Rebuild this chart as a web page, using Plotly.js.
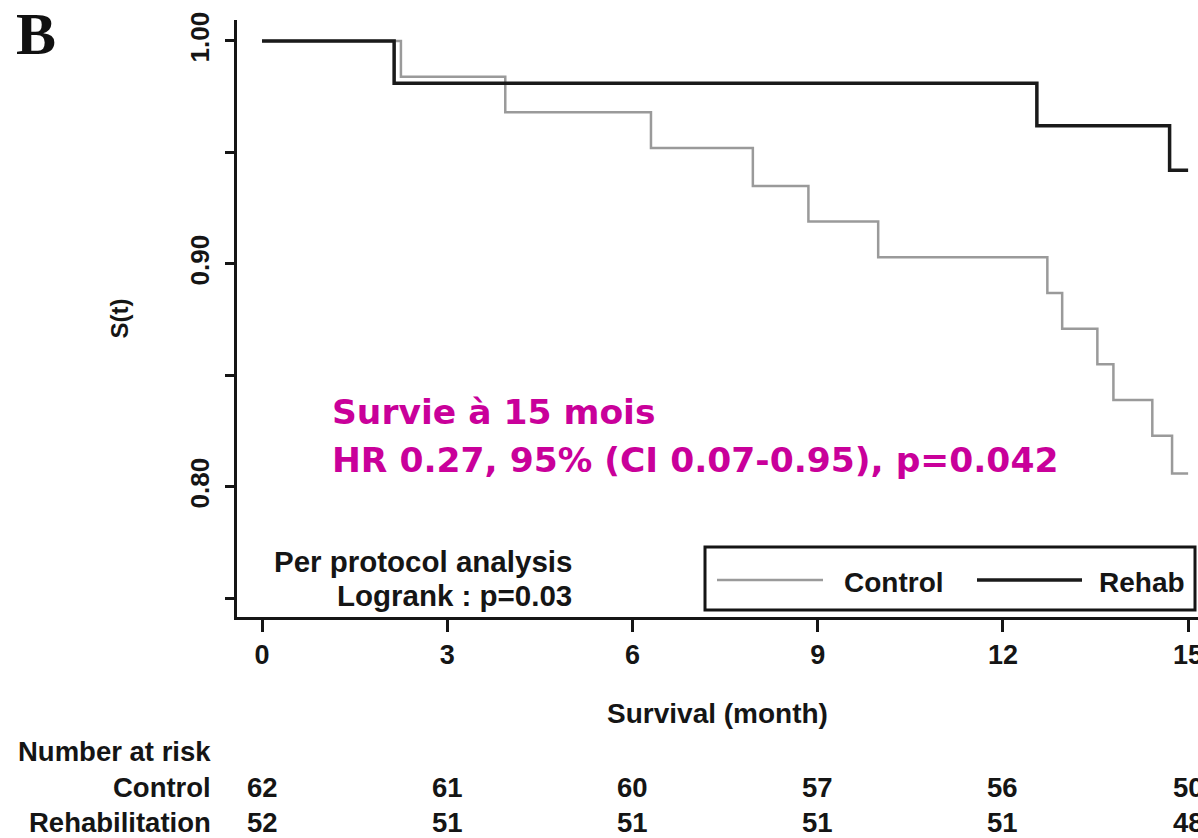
<!DOCTYPE html>
<html><head><meta charset="utf-8">
<script src="https://cdn.plot.ly/plotly-3.0.1.min.js"></script>
<style>html,body{margin:0;padding:0;background:#fff;overflow:hidden;} #chart{width:1198px;height:838px;}</style>
</head><body><div id="chart"></div>
<script>
// ---- data ----
const controlTime = [0, 2.25, 3.94, 6.30, 7.95, 8.85, 9.98, 12.72, 12.96, 13.53, 13.79, 14.42, 14.74, 15.0];
const controlSurv = [1.0, 0.984, 0.968, 0.952, 0.935, 0.919, 0.903, 0.887, 0.871, 0.855, 0.839, 0.823, 0.806, 0.806];
const rehabTime = [0, 2.14, 12.55, 14.70, 15.0];
const rehabSurv = [1.0, 0.981, 0.962, 0.942, 0.942];
const seriesNames = ['Control', 'Rehab'];
const riskTimes = [0, 3, 6, 9, 12, 15];
const riskControl = [62, 61, 60, 57, 56, 50];
const riskRehab = [52, 51, 51, 51, 51, 48];
const riskRowLabels = ['Control', 'Rehabilitation'];
const xTickVals = [0, 3, 6, 9, 12, 15];
const yTickVals = [0.75, 0.80, 0.85, 0.90, 0.95, 1.00];
const yTickText = ['', '0.80', '', '0.90', '', '1.00'];
const panelLabel = 'B';
const xTitle = 'Survival (month)';
const yTitle = 'S(t)';
const analysisLines = ['Per protocol analysis', 'Logrank : p=0.03'];
const noteLines = ['Survie à 15 mois', 'HR 0.27, 95% (CI 0.07-0.95), p=0.042'];
const riskHeader = 'Number at risk';

// ---- layout helpers ----
const plotL = 237, plotR = 1198, plotT = 20, plotB = 617;
const px = v => (v - plotL) / (plotR - plotL);
const py = v => (plotB - v) / (plotB - plotT);
const FONT = 'Liberation Sans, Arial, Helvetica, sans-serif';
const INK = '#151515';
const GRAY = '#9a9a9a';
const MAG = '#c9009a';
const f = (size, color, weight) => ({family: FONT, size: size, color: color || INK, weight: weight || 'bold'});

const traces = [
  {x: controlTime, y: controlSurv, name: seriesNames[0], mode: 'lines',
   line: {shape: 'hv', color: GRAY, width: 2.5}, showlegend: false, hoverinfo: 'skip'},
  {x: rehabTime, y: rehabSurv, name: seriesNames[1], mode: 'lines',
   line: {shape: 'hv', color: '#1a1a1a', width: 3.5}, showlegend: false, hoverinfo: 'skip'}
];

const annotations = [];
const A = o => annotations.push(Object.assign({showarrow: false, xref: 'paper', yref: 'paper'}, o));

A({text: panelLabel, x: px(36), y: py(34), xanchor: 'center', yanchor: 'middle',
   font: {family: 'Liberation Serif, Times New Roman, serif', size: 60, color: '#111', weight: 'bold'}});
A({text: analysisLines[0], x: px(574), y: py(561), xanchor: 'right', yanchor: 'middle', font: f(29.5)});
A({text: analysisLines[1], x: px(574), y: py(595), xanchor: 'right', yanchor: 'middle', font: f(29.5)});
A({text: noteLines[0], x: px(330), y: py(412), xanchor: 'left', yanchor: 'middle',
   font: {family: 'DejaVu Sans, Verdana, sans-serif', size: 34.5, color: MAG, weight: 'bold'}});
A({text: noteLines[1], x: px(330), y: py(460), xanchor: 'left', yanchor: 'middle',
   font: {family: 'DejaVu Sans, Verdana, sans-serif', size: 34.5, color: MAG, weight: 'bold'}});
// legend entries (drawn as shapes + text)
A({text: seriesNames[0], x: px(842), y: py(582), xanchor: 'left', yanchor: 'middle', font: f(28)});
A({text: seriesNames[1], x: px(1097), y: py(582), xanchor: 'left', yanchor: 'middle', font: f(28)});
// number at risk table
A({text: riskHeader, x: px(213), y: py(751), xanchor: 'right', yanchor: 'middle', font: f(27.5)});
A({text: riskRowLabels[0], x: px(213), y: py(787), xanchor: 'right', yanchor: 'middle', font: f(27.5)});
A({text: riskRowLabels[1], x: px(213), y: py(822), xanchor: 'right', yanchor: 'middle', font: f(27.5)});
riskTimes.forEach((t, i) => {
  A({text: String(riskControl[i]), xref: 'x', x: t, y: py(787), xanchor: 'center', yanchor: 'middle', font: f(27.5)});
  A({text: String(riskRehab[i]), xref: 'x', x: t, y: py(822), xanchor: 'center', yanchor: 'middle', font: f(27.5)});
});

const shapes = [
  {type: 'rect', xref: 'paper', yref: 'paper', x0: px(705), x1: px(1195), y0: py(610), y1: py(547),
   line: {color: INK, width: 3}, fillcolor: 'rgba(0,0,0,0)'},
  {type: 'line', xref: 'paper', yref: 'paper', x0: px(717), x1: px(823), y0: py(580), y1: py(580),
   line: {color: GRAY, width: 2.5}},
  {type: 'line', xref: 'paper', yref: 'paper', x0: px(977), x1: px(1082), y0: py(580), y1: py(580),
   line: {color: '#1a1a1a', width: 3.5}}
];

const layout = {
  width: 1198, height: 838,
  margin: {l: plotL, r: 0, t: plotT, b: 838 - plotB, pad: 0},
  paper_bgcolor: '#fff', plot_bgcolor: '#fff',
  showlegend: false,
  xaxis: {
    range: [-0.405, 15.16], tickmode: 'array', tickvals: xTickVals,
    ticks: 'outside', ticklen: 12, tickwidth: 3, tickcolor: INK,
    showline: true, linewidth: 3, linecolor: INK, mirror: false,
    showgrid: false, zeroline: false, automargin: false,
    ticklabeloverflow: 'allow',
    tickfont: f(27),
    title: {text: xTitle, font: f(28), standoff: 34}
  },
  yaxis: {
    range: [0.7417, 1.0094], tickmode: 'array', tickvals: yTickVals, ticktext: yTickText,
    tickangle: -90, ticks: 'outside', ticklen: 9, tickwidth: 3, tickcolor: INK,
    showline: true, linewidth: 3, linecolor: INK,
    showgrid: false, zeroline: false, automargin: false,
    tickfont: f(26), ticklabelstandoff: 6,
    title: {text: yTitle, font: f(24), standoff: 50}
  },
  annotations: annotations,
  shapes: shapes
};

Plotly.newPlot('chart', traces, layout, {displayModeBar: false, staticPlot: true});
</script>
</body></html>
